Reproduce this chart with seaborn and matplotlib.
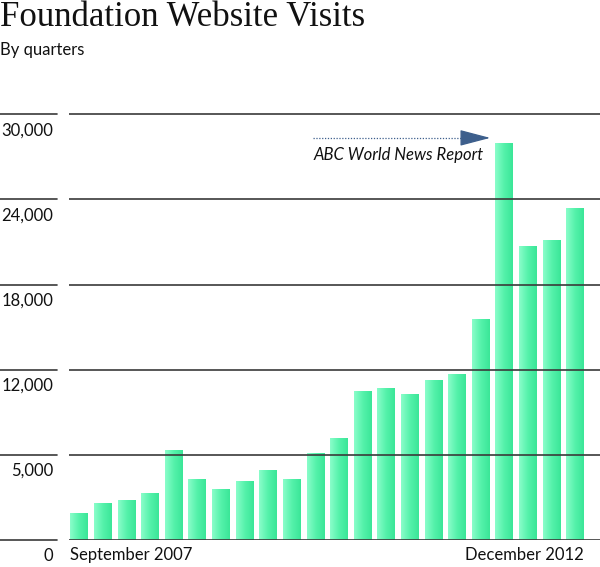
import numpy as np
import matplotlib
matplotlib.use('Agg')
import matplotlib.pyplot as plt
import matplotlib.transforms as mtransforms
from matplotlib.colors import LinearSegmentedColormap
import seaborn as sns

# quarterly visits, Sep 2007 .. Dec 2012
quarters = ['Sep 2007', 'Dec 2007',
            'Mar 2008', 'Jun 2008', 'Sep 2008', 'Dec 2008',
            'Mar 2009', 'Jun 2009', 'Sep 2009', 'Dec 2009',
            'Mar 2010', 'Jun 2010', 'Sep 2010', 'Dec 2010',
            'Mar 2011', 'Jun 2011', 'Sep 2011', 'Dec 2011',
            'Mar 2012', 'Jun 2012', 'Sep 2012', 'Dec 2012']
visits = [1880, 2600, 2820, 3330, 6360, 4270, 3570, 4180, 4910, 4270, 6160,
          7180, 10510, 10700, 10300, 11240, 11670, 15580, 27970, 20700, 21120, 23400]

grid_values = [0, 6000, 12000, 18000, 24000, 30000]
grid_labels = ['0', '5,000', '12,000', '18,000', '24,000', '30,000']
first_label = 'September 2007'
last_label = 'December 2012'
note_text = 'ABC World News Report'

sns.set_theme(style='white')
plt.rcParams['font.family'] = ['Lato', 'DejaVu Sans']

fig = plt.figure(figsize=(6, 5.67), dpi=100)
ax = fig.add_axes([69 / 600, 27 / 567, 531 / 600, 440 / 567])

sns.barplot(x=quarters, y=visits, ax=ax, color='#4cf0a6', width=0.76,
            saturation=1, edgecolor='none', zorder=2)

# horizontal gradient inside each bar
cmap = LinearSegmentedColormap.from_list('bar', ['#8afdca', '#55f2ab', '#3ae698'])
grad = np.linspace(0, 1, 64).reshape(1, -1)
for p in ax.patches:
    x0, y0 = p.get_x(), p.get_y()
    im = ax.imshow(grad, cmap=cmap, aspect='auto', zorder=2.5,
                   extent=[x0, x0 + p.get_width(), y0, y0 + p.get_height()])
    im.set_clip_path(p)

ax.set_xlim(-0.44, 22.05)
ax.set_ylim(0, 31000)
ax.set_xticks([])
ax.set_yticks([])
ax.set_xlabel('')
ax.set_ylabel('')
sns.despine(ax=ax, left=True, bottom=True, top=True, right=True)

# gridlines over the bars, plus short segments above the labels
for v in grid_values:
    ax.axhline(v, color='#3a3a3a', lw=1.2, zorder=4)
trans_lab = mtransforms.blended_transform_factory(fig.transFigure, ax.transData)
off = mtransforms.offset_copy(trans_lab, fig=fig, y=-8, units='dots')
for v, lab in zip(grid_values, grid_labels):
    ax.plot([0, 57 / 600], [v, v], transform=trans_lab, color='#3a3a3a',
            lw=1.2, clip_on=False)
    ax.text(53 / 600, v, lab, transform=off, ha='right', va='top',
            fontsize=12, color='#111111')

# first and last quarter labels
off_x = mtransforms.offset_copy(ax.get_xaxis_transform(), fig=fig, y=-7, units='dots')
ax.text(ax.patches[0].get_x(), 0, first_label, transform=off_x, ha='left',
        va='top', fontsize=12, color='#111111')
last = ax.patches[-1]
ax.text(last.get_x() + last.get_width(), 0, last_label, transform=off_x,
        ha='right', va='top', fontsize=12, color='#111111')

# annotation: dotted line with a solid arrowhead
arrow_y = 28330
ax.plot([9.9, 16.6], [arrow_y, arrow_y], color='#3d5f8c', lw=0.9,
        linestyle=(0, (1, 1.3)), zorder=5)
ax.annotate('', xy=(17.4, arrow_y), xytext=(16.5, arrow_y),
            arrowprops=dict(arrowstyle='-|>,head_length=1.6,head_width=0.42',
                            color='#3d5f8c', lw=0.9, shrinkA=0, shrinkB=0),
            zorder=5)
ax.text(9.9, 27150, note_text, ha='left', va='center', fontsize=12,
        style='italic', color='#111111', zorder=5)

# titles
fig.text(0.0, 1 - 1 / 567, 'Foundation Website Visits', ha='left', va='top',
         fontsize=25, family=['Liberation Serif', 'DejaVu Serif'], color='#111111')
fig.text(0.0, 1 - 42 / 567, 'By quarters', ha='left', va='top',
         fontsize=12, color='#111111')

fig.savefig('out.png', dpi=100, facecolor='white')
